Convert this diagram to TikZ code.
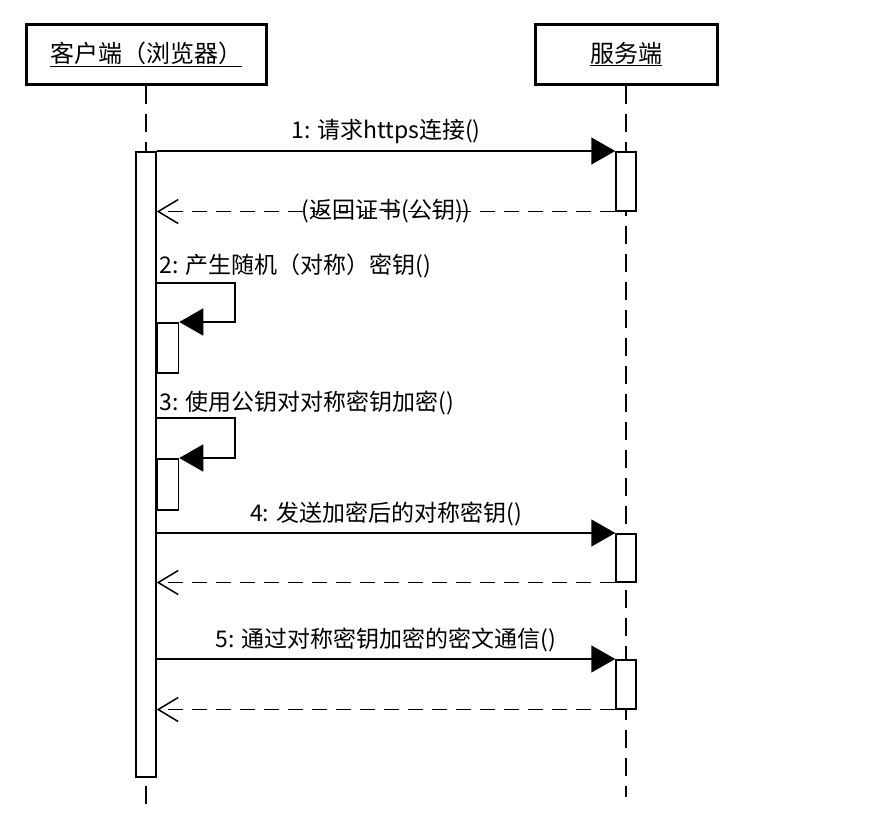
\documentclass[tikz,border=0pt]{standalone}
\usepackage{fontspec}
\setmainfont{Noto Sans CJK SC}
\usetikzlibrary{arrows.meta,positioning}
\def \breiteKunde {240pt}
\def \breiteServer {182pt}
\tikzset{
  objekt/.style={draw,line width=3pt,minimum height=60pt,inner sep=0pt,font=\fontsize{24pt}{26pt}\selectfont},
  lebenslinie/.style={line width=1.5pt,dash pattern=on 18pt off 10pt},
  aktiv/.style={draw,fill=white,line width=1.5pt,minimum width=20pt,inner sep=0pt,anchor=north},
  aufruf/.style={line width=1.5pt,-{Triangle[length=24pt,width=27pt]}},
  antwort/.style={line width=1.5pt,dash pattern=on 15pt off 9pt,-{Straight Barb[length=20pt,width=24pt]}},
  nachricht/.style={font=\fontsize{23pt}{25pt}\selectfont,inner sep=0pt}
}

\begin{document}
\begin{tikzpicture}[x=1pt,y=-1pt]
  \useasboundingbox (0,0) rectangle (894,814);
  % Objekte
  \node[objekt,minimum width=\breiteKunde] (kunde) at (146,54) {\underline{客户端（浏览器）}};
  \node[objekt,minimum width=\breiteServer] (server) at (626,54) {\underline{服务端}};
  % Lebenslinien
  \draw[lebenslinie] (kunde.south) -- ++(0,724);
  \draw[lebenslinie] (server.south) -- ++(0,711);
  % Aktivierungen
  \node[aktiv,minimum height=625pt] (aktK) at (kunde.south |- 0,151) {};
  \node[aktiv,minimum height=59pt] (s1) at (server.south |- 0,151) {};
  \node[aktiv,minimum height=48pt] (s4) at (server.south |- 0,533) {};
  \node[aktiv,minimum height=49pt] (s5) at (server.south |- 0,659) {};
  % 1
  \draw[aufruf] (aktK.east |- s1.north) -- (s1.north west)
    node[nachricht,midway,above=6pt] {1: 请求https连接()};
  \draw[antwort] (s1.south west) -- (aktK.east |- s1.south)
    node[nachricht,midway] {(返回证书(公钥))};
  % 2
  \node[aktiv,anchor=north west,minimum width=21pt,minimum height=50pt] (k2) at (aktK.east |- 0,322) {};
  \draw[aufruf] (aktK.east |- 0,283)
    node[nachricht,anchor=south west,xshift=2pt,yshift=4pt] {2: 产生随机（对称）密钥()}
    -| (235,322) -- (k2.north east);
  % 3
  \node[aktiv,anchor=north west,minimum width=21pt,minimum height=51pt] (k3) at (aktK.east |- 0,458) {};
  \draw[aufruf] (aktK.east |- 0,418)
    node[nachricht,anchor=south west,xshift=2pt,yshift=2pt] {3: 使用公钥对对称密钥加密()}
    -| (235,458) -- (k3.north east);
  % 4
  \draw[aufruf] (aktK.east |- s4.north) -- (s4.north west)
    node[nachricht,midway,above=6pt] {4: 发送加密后的对称密钥()};
  \draw[antwort] (s4.south west) -- (aktK.east |- s4.south);
  % 5
  \draw[aufruf] (aktK.east |- s5.north) -- (s5.north west)
    node[nachricht,midway,above=6pt] {5: 通过对称密钥加密的密文通信()};
  \draw[antwort] (s5.south west) -- (aktK.east |- s5.south);
\end{tikzpicture}
\end{document}
